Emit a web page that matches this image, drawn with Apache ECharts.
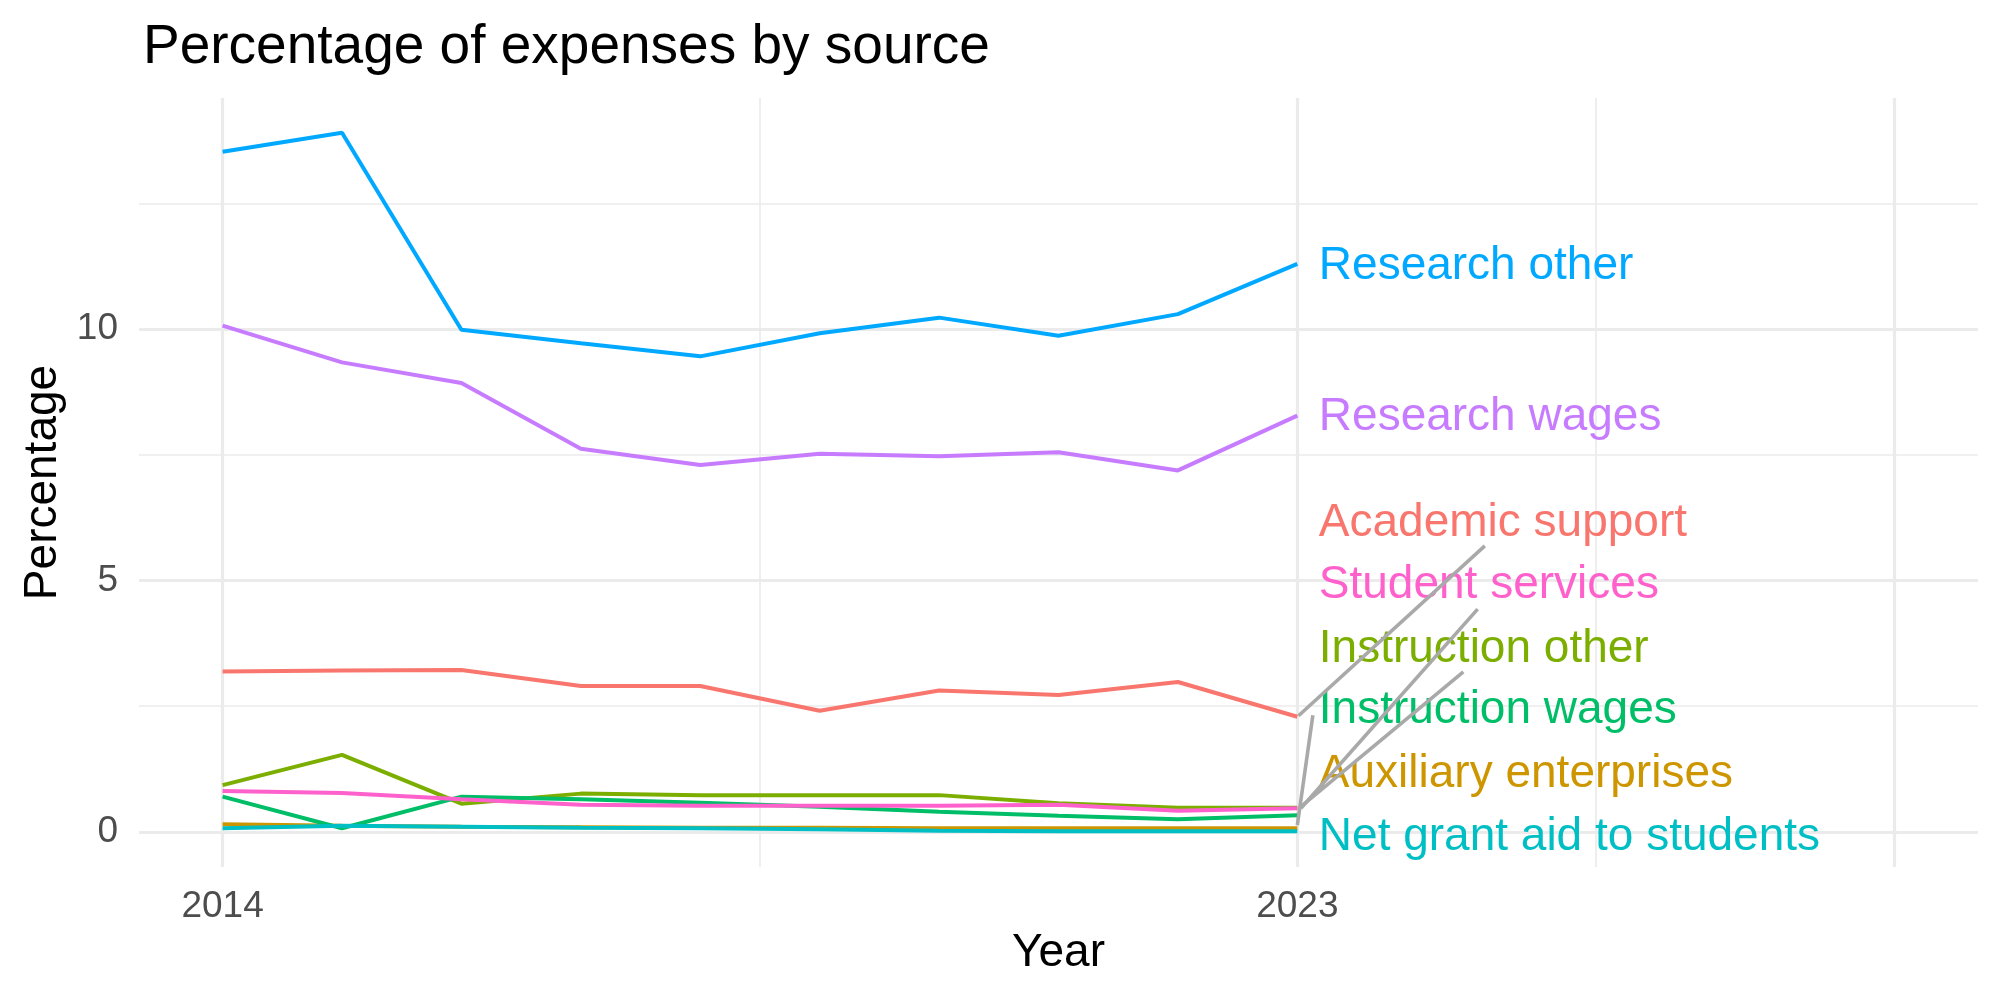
<!DOCTYPE html>
<html>
<head>
<meta charset="utf-8">
<script src="https://cdn.jsdelivr.net/npm/echarts@6/dist/echarts.min.js"></script>
<style>
  html, body { margin: 0; padding: 0; background: #fff; }
  #chart { width: 2000px; height: 1000px; }
</style>
</head>
<body>
<div id="chart"></div>
<script>
// data
const years = [2014, 2015, 2016, 2017, 2018, 2019, 2020, 2021, 2022, 2023]
const sources = [
  'Academic support',
  'Auxiliary enterprises',
  'Instruction other',
  'Instruction wages',
  'Net grant aid to students',
  'Research other',
  'Research wages',
  'Student services',
]
const academicSupport = [3.19, 3.21, 3.22, 2.90, 2.90, 2.41, 2.81, 2.72, 2.98, 2.29]
const auxiliaryEnterprises = [0.15, 0.12, 0.10, 0.09, 0.08, 0.08, 0.07, 0.07, 0.07, 0.07]
const instructionOther = [0.93, 1.53, 0.56, 0.76, 0.73, 0.73, 0.73, 0.57, 0.48, 0.48]
const instructionWages = [0.70, 0.07, 0.70, 0.65, 0.58, 0.50, 0.40, 0.32, 0.25, 0.33]
const netGrantAid = [0.07, 0.12, 0.10, 0.08, 0.07, 0.05, 0.02, 0.01, 0.01, 0.01]
const researchOther = [13.53, 13.91, 9.99, 9.72, 9.46, 9.92, 10.23, 9.87, 10.30, 11.30]
const researchWages = [10.07, 9.34, 8.93, 7.62, 7.30, 7.52, 7.47, 7.55, 7.19, 8.28]
const studentServices = [0.81, 0.77, 0.65, 0.54, 0.52, 0.52, 0.52, 0.54, 0.42, 0.47]
const seriesValues = [
  academicSupport, auxiliaryEnterprises, instructionOther, instructionWages,
  netGrantAid, researchOther, researchWages, studentServices,
]

// tick labels / breaks
const xLabelBreaks = [2014, 2023]
const xMajorBreaks = [2014, 2023, 2028]
const xMinorBreaks = [2018.5, 2025.5]
const yLabelBreaks = [0, 5, 10]
const yMinorBreaks = [2.5, 7.5, 12.5]

// repelled label anchors (data units), same order as sources
const labelX = 2023.18
const labelY = [6.13, 1.15, 3.64, 2.41, -0.11, 11.25, 8.24, 4.90]
// connector segments: [label side x, y, point side x, y]
const segments = [
  [2024.57, 5.69, 2023.01, 2.31],
  [2024.51, 4.43, 2023.03, 0.47],
  [2024.39, 3.18, 2023.03, 0.50],
  [2023.13, 2.32, 2023.0, 0.13],
]

const colors = ['#F8766D', '#CD9600', '#7CAE00', '#00BE67', '#00BFC4', '#00A9FF', '#C77CFF', '#FF61CC']
const font = 'Liberation Sans, Arial, sans-serif'

const chart = echarts.init(document.getElementById('chart'))

const gridSeries = {
  type: 'line',
  data: [],
  silent: true,
  markLine: {
    silent: true,
    z: 1,
    symbol: ['none', 'none'],
    label: { show: false },
    animation: false,
    data: [
      ...xMajorBreaks.map(v => ({ xAxis: v, lineStyle: { color: '#EBEBEB', width: 3.2, type: 'solid' } })),
      ...xMinorBreaks.map(v => ({ xAxis: v, lineStyle: { color: '#EBEBEB', width: 1.7, type: 'solid' } })),
      ...yLabelBreaks.map(v => ({ yAxis: v, lineStyle: { color: '#EBEBEB', width: 3.2, type: 'solid' } })),
      ...yMinorBreaks.map(v => ({ yAxis: v, lineStyle: { color: '#EBEBEB', width: 1.7, type: 'solid' } })),
    ],
  },
}

const lineSeries = sources.map((name, i) => ({
  type: 'line',
  name: name,
  data: years.map((y, j) => [y, seriesValues[i][j]]),
  showSymbol: false,
  symbol: 'none',
  z: 3 + i * 0.01,
  lineStyle: { color: colors[i], width: 4 },
}))

const segmentSeries = {
  type: 'lines',
  coordinateSystem: 'cartesian2d',
  z: 6,
  silent: true,
  lineStyle: { color: '#A9A9A9', width: 3.6, opacity: 1 },
  data: segments.map(s => ({ coords: [[s[0], s[1]], [s[2], s[3]]] })),
}

const labelSeries = {
  type: 'scatter',
  symbolSize: 0,
  z: 5,
  silent: true,
  itemStyle: { opacity: 1 },
  data: sources.map((name, i) => ({
    name: name,
    value: [labelX, labelY[i]],
    label: { color: colors[i] },
  })),
  label: {
    show: true,
    position: 'right',
    distance: 0,
    opacity: 1,
    formatter: p => p.name,
    fontFamily: font,
    fontSize: 46,
  },
}

chart.setOption({
  animation: false,
  backgroundColor: '#fff',
  title: {
    text: 'Percentage of expenses by source',
    left: 138,
    top: 15,
    textStyle: { fontFamily: font, fontSize: 55, fontWeight: 'normal', color: '#000' },
  },
  grid: { left: 139, right: 22, top: 98, bottom: 133 },
  xAxis: {
    type: 'value',
    min: 2013.3,
    max: 2028.7,
    name: 'Year',
    nameLocation: 'middle',
    nameGap: 63,
    nameTextStyle: { fontFamily: font, fontSize: 46, color: '#000' },
    axisLine: { show: false },
    axisTick: { show: false },
    splitLine: { show: false },
    axisLabel: {
      customValues: xLabelBreaks,
      formatter: v => String(v),
      margin: 21,
      fontFamily: font,
      fontSize: 37,
      color: '#4D4D4D',
    },
  },
  yAxis: {
    type: 'value',
    min: -0.7,
    max: 14.6,
    name: 'Percentage',
    nameLocation: 'middle',
    nameGap: 73,
    nameRotate: 90,
    nameTextStyle: { fontFamily: font, fontSize: 46, color: '#000' },
    axisLine: { show: false },
    axisTick: { show: false },
    splitLine: { show: false },
    axisLabel: {
      customValues: yLabelBreaks,
      margin: 21,
      fontFamily: font,
      fontSize: 37,
      color: '#4D4D4D',
    },
  },
  series: [gridSeries, ...lineSeries, segmentSeries, labelSeries],
})
</script>
</body>
</html>
